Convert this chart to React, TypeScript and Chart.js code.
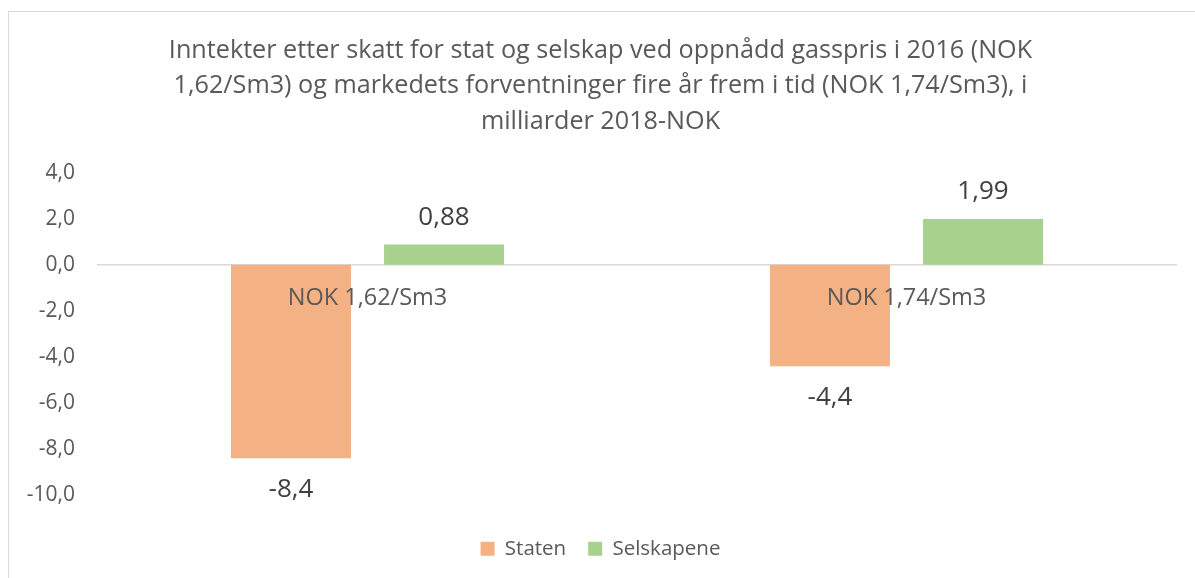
import React, { useEffect, useRef } from "react";
import { Chart, registerables } from "chart.js";

Chart.register(...registerables);

// ---- data ----
const categories = ["NOK 1,62/Sm3", "NOK 1,74/Sm3"];
const seriesNames = ["Staten", "Selskapene"];
const statenValues = [-8.4, -4.4];
const selskapeneValues = [0.88, 1.99];
const seriesDecimals = [1, 2];
const titleLines = [
  "Inntekter etter skatt for stat og selskap ved oppnådd gasspris i 2016 (NOK",
  "1,62/Sm3) og markedets forventninger fire år frem i tid (NOK 1,74/Sm3), i",
  "milliarder 2018-NOK",
];
const yMin = -10;
const yMax = 4;
const yStep = 2;

const FONT = "'Open Sans', Lato, sans-serif";
const fmt = (v: number, d: number) => v.toFixed(d).replace(".", ",");

const dataLabelPlugin = {
  id: "valueLabels",
  afterDatasetsDraw(chart: any) {
    const ctx = chart.ctx;
    ctx.save();
    ctx.font = `26px ${FONT}`;
    ctx.fillStyle = "#404040";
    ctx.textAlign = "center";
    ctx.textBaseline = "middle";
    chart.data.datasets.forEach((ds: any, di: number) => {
      const meta = chart.getDatasetMeta(di);
      meta.data.forEach((bar: any, i: number) => {
        const v = ds.data[i] as number;
        const text = fmt(v, seriesDecimals[di]);
        const y = v >= 0 ? bar.y - 27 : bar.y + 31.5;
        ctx.fillText(text, bar.x, y);
      });
    });
    ctx.restore();
  },
};

export default function App() {
  const canvasRef = useRef<HTMLCanvasElement | null>(null);

  useEffect(() => {
    if (!canvasRef.current) return;
    const chart = new Chart(canvasRef.current, {
      type: "bar",
      data: {
        labels: categories,
        datasets: [
          {
            label: seriesNames[0],
            data: statenValues,
            backgroundColor: "#F4B183",
            categoryPercentage: 0.568,
            barPercentage: 0.784,
          },
          {
            label: seriesNames[1],
            data: selskapeneValues,
            backgroundColor: "#A9D18E",
            categoryPercentage: 0.568,
            barPercentage: 0.784,
          },
        ],
      },
      options: {
        responsive: false,
        animation: false,
        layout: { padding: { left: 16, right: 19, top: 0, bottom: 9 } },
        scales: {
          x: {
            type: "category",
            position: { y: 0 } as any,
            grid: { display: false, drawTicks: false },
            border: { display: true, color: "#d9d9d9", width: 1.5 },
            ticks: {
              z: 1,
              padding: 19,
              color: "#595959",
              font: { family: FONT, size: 23.5 },
              maxRotation: 0,
            },
          },
          x2: {
            type: "linear",
            position: "bottom",
            display: true,
            grid: { display: false, drawTicks: false },
            border: { display: false },
            ticks: { display: false },
            afterFit: (s: any) => {
              s.height = 21.3;
            },
          },
          y: {
            min: yMin,
            max: yMax,
            grid: { display: false, drawTicks: false },
            border: { display: false },
            ticks: {
              stepSize: yStep,
              padding: 23,
              color: "#595959",
              font: { family: FONT, size: 21 },
              callback: (v: any) => fmt(Number(v), 1),
            },
            afterFit: (s: any) => {
              s.width = 73;
            },
          },
        },
        plugins: {
          title: {
            display: true,
            text: titleLines,
            color: "#595959",
            font: { family: FONT, size: 25.2, weight: "normal", lineHeight: "35.5px" },
            padding: { top: 21, bottom: 33.2 },
          },
          legend: {
            display: true,
            position: "bottom",
            labels: {
              boxWidth: 14,
              boxHeight: 14,
              padding: 22,
              color: "#595959",
              font: { family: FONT, size: 20.5 },
            },
          },
          tooltip: { enabled: false },
        },
      },
      plugins: [dataLabelPlugin],
    } as any);
    return () => chart.destroy();
  }, []);

  return (
    <div
      style={{
        position: "absolute",
        left: 8,
        top: 11,
        width: 1187,
        height: 567,
        boxSizing: "border-box",
        borderLeft: "1px solid #d9d9d9",
        borderTop: "1px solid #d9d9d9",
        background: "#fff",
      }}
    >
      <canvas ref={canvasRef} width={1186} height={566} style={{ display: "block" }} />
    </div>
  );
}
